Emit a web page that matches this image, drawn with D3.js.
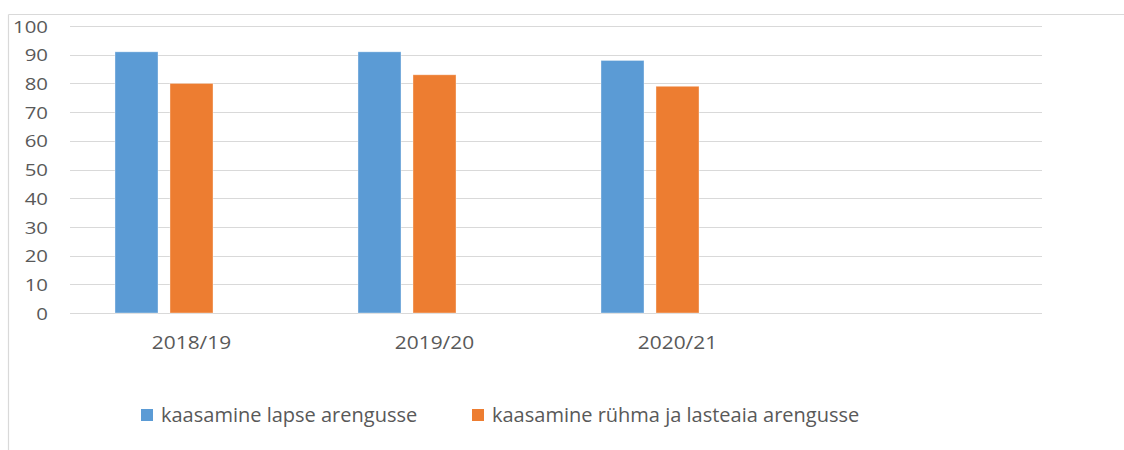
<!DOCTYPE html>
<html>
<head>
<meta charset="utf-8">
<script src="https://cdn.jsdelivr.net/npm/d3@7"></script>
<style>
  body { margin: 0; background: #fff; }
  text { font-family: "Open Sans", sans-serif; fill: #595959; }
</style>
</head>
<body>
<svg id="chart" width="1124" height="450"></svg>
<script>
// data
var categories = ["2018/19", "2019/20", "2020/21"];
var seriesNames = ["kaasamine lapse arengusse", "kaasamine rühma ja lasteaia arengusse"];
var lapseValues = [91, 91, 88];
var ryhmaValues = [80, 83, 79];
var yTicks = [0, 10, 20, 30, 40, 50, 60, 70, 80, 90, 100];
var colors = ["#5b9bd5", "#ed7d31"];

var svg = d3.select("#chart");

// outer frame (top + left only visible)
svg.append("line").attr("x1", 8.5).attr("x2", 1124).attr("y1", 14.5).attr("y2", 14.5)
    .attr("stroke", "#d9d9d9").attr("stroke-width", 1.2);
svg.append("line").attr("x1", 8.5).attr("x2", 8.5).attr("y1", 14.5).attr("y2", 450)
    .attr("stroke", "#d9d9d9").attr("stroke-width", 1.2);

// excel kept an empty fourth category and an empty third series slot
var x = d3.scaleBand().domain(categories.concat([""])).range([70, 1042]).padding(0);
var xSub = d3.scaleBand().domain(["a", "b", "c"]).range([0, x.bandwidth()])
    .paddingInner(0.218).paddingOuter(0.818);
var y = d3.scaleLinear().domain([0, 100]).range([313, 26]);

// gridlines
svg.append("g").selectAll("line").data(yTicks).enter().append("line")
    .attr("x1", 70).attr("x2", 1042)
    .attr("y1", function(d) { return Math.round(y(d)) + 0.5; })
    .attr("y2", function(d) { return Math.round(y(d)) + 0.5; })
    .attr("stroke", "#d9d9d9").attr("stroke-width", 1.2);

// y labels (the source font is wider, so stretch a bit)
var yAxis = svg.append("g").attr("transform", "translate(48,0)")
    .call(d3.axisLeft(y).tickValues(yTicks).tickSize(0).tickPadding(0));
yAxis.select(".domain").remove();
yAxis.selectAll("text").style("font-size", "17px").attr("dy", "0.36em")
    .attr("transform", "scale(1.2,1)")
    .style("font-family", "'Open Sans', sans-serif").attr("fill", "#595959");

// x labels
var xAxis = svg.append("g").attr("transform", "translate(0,313)")
    .call(d3.axisBottom(x).tickSize(0).tickPadding(0));
xAxis.select(".domain").remove();
xAxis.selectAll("text").style("font-size", "18px").attr("y", 36).attr("dy", 0)
    .attr("transform", "scale(1.16,1)")
    .style("font-family", "'Open Sans', sans-serif").attr("fill", "#595959");

// bars
var rows = categories.map(function(c, i) {
  return { cat: c, vals: [lapseValues[i], ryhmaValues[i]] };
});
var groups = svg.append("g").selectAll("g").data(rows).enter().append("g")
    .attr("transform", function(d) { return "translate(" + x(d.cat) + ",0)"; });
groups.selectAll("rect").data(function(d) { return d.vals; }).enter().append("rect")
    .attr("x", function(d, i) { return xSub(["a", "b"][i]); })
    .attr("width", xSub.bandwidth())
    .attr("y", function(d) { return y(d); })
    .attr("height", function(d) { return y(0) - y(d); })
    .attr("fill", function(d, i) { return colors[i]; })
    .attr("stroke", "rgba(255,255,255,0.45)").attr("stroke-width", 0.8);

// legend
var legendX = [141, 472];
var legend = svg.append("g").selectAll("g").data(seriesNames).enter().append("g")
    .attr("transform", function(d, i) { return "translate(" + legendX[i] + ",409)"; });
legend.append("rect").attr("width", 12).attr("height", 12)
    .attr("fill", function(d, i) { return colors[i]; });
legend.append("text").attr("x", 20).attr("y", 12.5).style("font-size", "20px")
    .text(function(d) { return d; });
</script>
</body>
</html>
